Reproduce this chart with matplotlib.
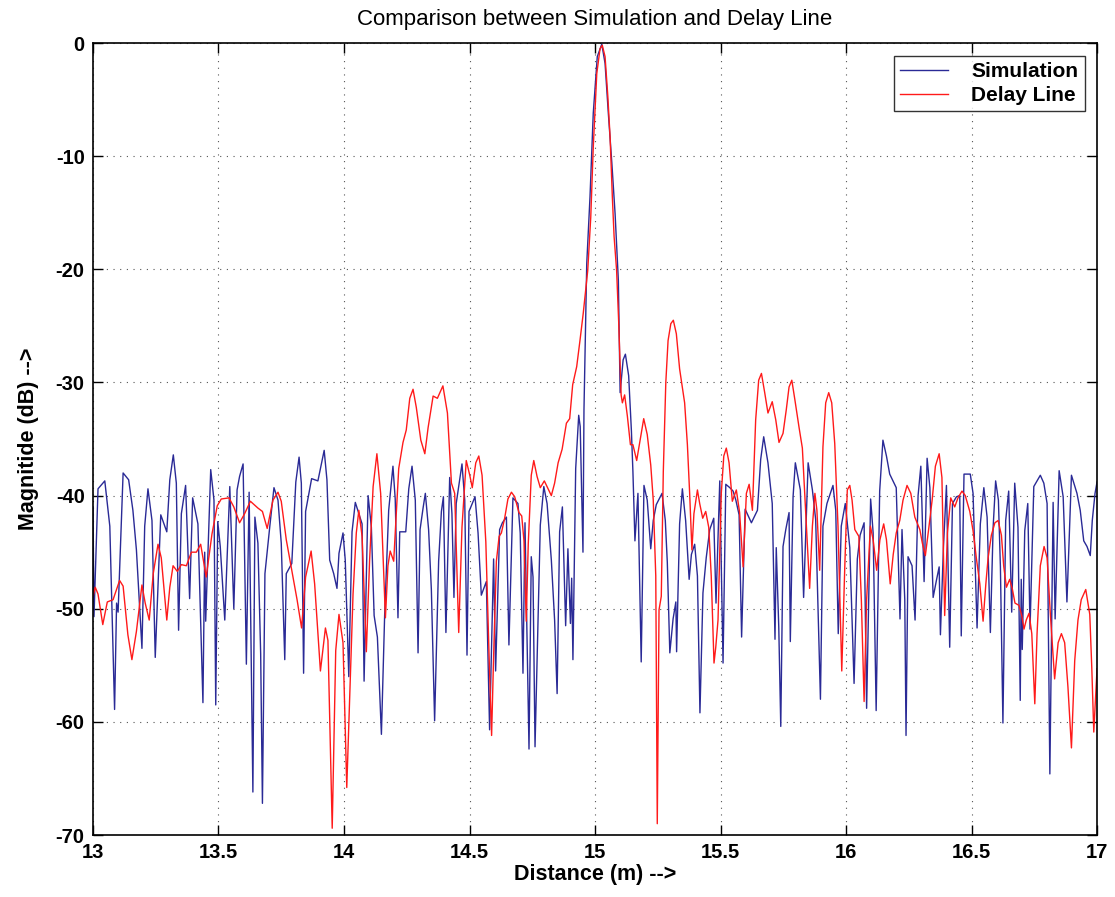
import matplotlib
matplotlib.use('Agg')
import matplotlib.pyplot as plt

plt.rcParams['font.family'] = ['Liberation Sans', 'DejaVu Sans']
plt.rcParams['axes.unicode_minus'] = False

# Simulated response (distance in m, magnitude in dB)
sim_x = [
    13.000, 13.004, 13.020, 13.047, 13.067, 13.086, 13.094, 13.100, 13.120, 13.142,
    13.159, 13.173, 13.195, 13.206, 13.219, 13.235, 13.248, 13.270, 13.294, 13.306,
    13.320, 13.332, 13.341, 13.352, 13.369, 13.385, 13.397, 13.418, 13.438, 13.445,
    13.449, 13.469, 13.482, 13.489, 13.497, 13.507, 13.525, 13.545, 13.561, 13.574,
    13.584, 13.598, 13.611, 13.622, 13.637, 13.645, 13.657, 13.668, 13.675, 13.685,
    13.704, 13.721, 13.737, 13.750, 13.764, 13.770, 13.792, 13.808, 13.821, 13.830,
    13.839, 13.847, 13.871, 13.896, 13.921, 13.932, 13.943, 13.959, 13.972, 13.980,
    13.996, 14.005, 14.019, 14.032, 14.045, 14.059, 14.072, 14.080, 14.096, 14.109,
    14.120, 14.133, 14.149, 14.162, 14.178, 14.195, 14.204, 14.215, 14.222, 14.246,
    14.258, 14.271, 14.284, 14.295, 14.303, 14.315, 14.324, 14.337, 14.348, 14.361,
    14.377, 14.388, 14.396, 14.406, 14.421, 14.430, 14.438, 14.447, 14.470, 14.481,
    14.490, 14.498, 14.522, 14.534, 14.547, 14.567, 14.580, 14.596, 14.604, 14.620,
    14.631, 14.647, 14.657, 14.673, 14.693, 14.702, 14.713, 14.721, 14.726, 14.737,
    14.746, 14.753, 14.761, 14.782, 14.796, 14.809, 14.826, 14.839, 14.849, 14.859,
    14.870, 14.883, 14.892, 14.902, 14.907, 14.912, 14.923, 14.935, 14.941, 14.952,
    14.956, 14.967, 14.980, 14.993, 15.009, 15.027, 15.040, 15.053, 15.067, 15.080,
    15.093, 15.100, 15.112, 15.121, 15.134, 15.145, 15.151, 15.159, 15.171, 15.184,
    15.195, 15.208, 15.222, 15.232, 15.244, 15.267, 15.280, 15.288, 15.298, 15.311,
    15.322, 15.325, 15.337, 15.348, 15.361, 15.375, 15.384, 15.397, 15.408, 15.418,
    15.430, 15.443, 15.457, 15.473, 15.482, 15.497, 15.510, 15.521, 15.537, 15.550,
    15.561, 15.574, 15.584, 15.598, 15.623, 15.647, 15.660, 15.672, 15.689, 15.706,
    15.717, 15.722, 15.732, 15.740, 15.749, 15.760, 15.773, 15.778, 15.789, 15.798,
    15.818, 15.831, 15.849, 15.866, 15.879, 15.898, 15.908, 15.924, 15.948, 15.959,
    15.969, 15.981, 15.997, 16.015, 16.032, 16.045, 16.056, 16.072, 16.082, 16.098,
    16.108, 16.120, 16.134, 16.147, 16.161, 16.174, 16.187, 16.200, 16.215, 16.223,
    16.234, 16.239, 16.247, 16.263, 16.275, 16.287, 16.298, 16.311, 16.323, 16.334,
    16.347, 16.360, 16.371, 16.376, 16.388, 16.400, 16.413, 16.424, 16.440, 16.453,
    16.459, 16.470, 16.495, 16.506, 16.522, 16.535, 16.549, 16.562, 16.575, 16.586,
    16.596, 16.607, 16.615, 16.625, 16.636, 16.648, 16.660, 16.672, 16.685, 16.694,
    16.698, 16.702, 16.712, 16.724, 16.733, 16.748, 16.774, 16.788, 16.801, 16.812,
    16.825, 16.833, 16.849, 16.865, 16.880, 16.898, 16.920, 16.933, 16.947, 16.960,
    16.973, 16.981, 16.992, 17.000,
]
sim_db = [
    -41.0, -50.7, -39.4, -38.7, -42.7, -58.9, -49.5, -50.3, -38.0, -38.6,
    -41.3, -44.8, -53.5, -42.7, -39.4, -42.2, -54.3, -41.7, -43.2, -38.6,
    -36.4, -38.9, -51.9, -41.6, -39.1, -49.1, -40.2, -42.5, -58.3, -45.0,
    -51.1, -37.7, -40.4, -58.5, -42.3, -44.5, -51.0, -39.2, -50.0, -39.5,
    -38.3, -37.2, -54.9, -39.7, -66.2, -41.9, -44.2, -54.0, -67.2, -46.9,
    -42.8, -39.3, -40.4, -44.2, -54.5, -46.9, -46.0, -38.8, -36.6, -38.9,
    -55.7, -41.4, -38.5, -38.7, -36.0, -38.6, -45.7, -46.9, -48.2, -45.1,
    -43.3, -45.7, -56.0, -43.2, -40.6, -41.6, -42.5, -56.4, -40.0, -42.8,
    -50.6, -52.5, -61.1, -50.5, -41.3, -37.4, -40.3, -50.8, -43.2, -43.2,
    -39.4, -37.4, -40.4, -53.9, -43.0, -41.1, -39.8, -43.0, -48.3, -59.9,
    -45.8, -41.4, -40.1, -52.1, -38.4, -41.6, -49.0, -40.7, -37.2, -40.4,
    -54.1, -41.4, -40.1, -43.3, -48.8, -47.6, -60.7, -45.6, -55.5, -43.0,
    -42.4, -41.9, -53.2, -40.2, -40.7, -43.3, -55.7, -42.4, -48.6, -62.4,
    -45.4, -47.2, -62.2, -42.6, -39.2, -40.7, -45.7, -51.0, -57.5, -43.2,
    -41.0, -51.5, -44.7, -51.3, -47.3, -54.5, -37.6, -32.9, -33.9, -45.0,
    -32.4, -19.5, -13.6, -6.2, -1.2, -0.1, -1.8, -6.2, -10.6, -15.1,
    -21.0, -30.9, -28.0, -27.5, -29.4, -34.3, -37.9, -44.0, -39.8, -54.7,
    -39.1, -40.4, -44.7, -42.2, -40.8, -39.8, -42.2, -45.9, -53.9, -50.9,
    -49.4, -53.8, -42.5, -39.4, -42.2, -47.4, -45.2, -44.3, -47.1, -59.2,
    -48.6, -45.5, -43.0, -42.0, -49.5, -38.7, -54.8, -39.0, -39.3, -39.6,
    -40.4, -41.7, -52.5, -41.2, -42.4, -41.3, -36.8, -34.8, -37.1, -40.7,
    -52.7, -44.6, -51.6, -60.4, -44.5, -43.0, -41.5, -52.9, -40.1, -37.1,
    -39.5, -49.0, -37.1, -39.5, -42.1, -58.0, -42.7, -40.7, -39.1, -41.3,
    -52.2, -42.7, -40.7, -44.6, -56.6, -45.6, -43.5, -42.4, -58.8, -40.3,
    -43.3, -59.0, -39.6, -35.1, -36.5, -38.1, -38.7, -39.3, -50.9, -43.0,
    -49.2, -61.2, -45.4, -46.2, -51.0, -40.0, -37.4, -47.6, -36.7, -39.3,
    -49.0, -47.5, -46.3, -52.3, -44.6, -39.1, -53.4, -40.7, -40.1, -40.0,
    -52.4, -38.1, -38.1, -39.8, -51.7, -42.5, -39.3, -41.9, -52.1, -42.8,
    -38.7, -40.4, -46.3, -60.1, -42.2, -39.6, -50.3, -38.9, -42.8, -58.1,
    -47.4, -53.6, -43.1, -40.7, -51.8, -39.2, -38.2, -38.9, -40.7, -64.6,
    -40.6, -50.9, -37.8, -40.1, -49.4, -38.2, -39.8, -41.3, -44.0, -44.5,
    -45.3, -42.2, -39.8, -38.8,
]

# Delay line measurement
dl_x = [
    13.000, 13.009, 13.020, 13.039, 13.057, 13.080, 13.106, 13.120, 13.139, 13.155,
    13.173, 13.195, 13.208, 13.224, 13.240, 13.259, 13.272, 13.294, 13.306, 13.319,
    13.336, 13.352, 13.372, 13.392, 13.412, 13.429, 13.451, 13.474, 13.495, 13.511,
    13.542, 13.561, 13.584, 13.604, 13.627, 13.657, 13.675, 13.694, 13.717, 13.737,
    13.750, 13.770, 13.797, 13.813, 13.831, 13.847, 13.869, 13.883, 13.906, 13.926,
    13.936, 13.953, 13.967, 13.980, 13.996, 14.011, 14.023, 14.036, 14.049, 14.059,
    14.072, 14.089, 14.102, 14.116, 14.131, 14.146, 14.165, 14.175, 14.184, 14.198,
    14.218, 14.235, 14.248, 14.262, 14.275, 14.288, 14.306, 14.322, 14.335, 14.355,
    14.372, 14.394, 14.412, 14.428, 14.441, 14.457, 14.470, 14.487, 14.501, 14.511,
    14.525, 14.537, 14.550, 14.565, 14.578, 14.588, 14.596, 14.607, 14.618, 14.627,
    14.640, 14.653, 14.667, 14.680, 14.697, 14.708, 14.717, 14.726, 14.734, 14.746,
    14.756, 14.769, 14.782, 14.798, 14.813, 14.826, 14.839, 14.853, 14.869, 14.886,
    14.899, 14.911, 14.927, 14.940, 14.953, 14.971, 14.983, 14.993, 15.007, 15.020,
    15.029, 15.040, 15.051, 15.060, 15.069, 15.076, 15.086, 15.094, 15.104, 15.109,
    15.118, 15.129, 15.141, 15.151, 15.166, 15.181, 15.194, 15.208, 15.222, 15.232,
    15.242, 15.248, 15.255, 15.264, 15.272, 15.282, 15.291, 15.302, 15.312, 15.324,
    15.337, 15.357, 15.368, 15.377, 15.386, 15.394, 15.408, 15.417, 15.429, 15.441,
    15.453, 15.463, 15.474, 15.481, 15.490, 15.503, 15.513, 15.523, 15.534, 15.547,
    15.563, 15.576, 15.590, 15.603, 15.614, 15.627, 15.640, 15.652, 15.663, 15.676,
    15.689, 15.706, 15.720, 15.733, 15.749, 15.762, 15.773, 15.784, 15.796, 15.813,
    15.826, 15.839, 15.855, 15.866, 15.876, 15.884, 15.895, 15.908, 15.919, 15.931,
    15.943, 15.955, 15.968, 15.983, 15.995, 16.005, 16.015, 16.024, 16.035, 16.051,
    16.061, 16.072, 16.082, 16.097, 16.108, 16.122, 16.135, 16.150, 16.161, 16.176,
    16.188, 16.200, 16.214, 16.227, 16.243, 16.258, 16.274, 16.294, 16.304, 16.316,
    16.329, 16.343, 16.356, 16.371, 16.382, 16.393, 16.404, 16.417, 16.433, 16.446,
    16.462, 16.475, 16.493, 16.506, 16.519, 16.533, 16.546, 16.557, 16.566, 16.579,
    16.593, 16.606, 16.619, 16.628, 16.639, 16.652, 16.663, 16.673, 16.689, 16.700,
    16.709, 16.718, 16.729, 16.740, 16.752, 16.761, 16.774, 16.789, 16.801, 16.814,
    16.831, 16.845, 16.858, 16.871, 16.884, 16.898, 16.911, 16.924, 16.937, 16.955,
    16.971, 16.979, 16.987, 16.995, 17.000,
]
dl_db = [
    -48.9, -48.1, -48.7, -51.4, -49.4, -49.2, -47.5, -48.0, -52.3, -54.5,
    -52.0, -47.9, -49.5, -51.0, -46.9, -44.3, -45.5, -51.0, -48.1, -46.2,
    -46.7, -46.1, -46.2, -45.0, -45.0, -44.3, -47.2, -43.4, -40.9, -40.3,
    -40.2, -41.0, -42.4, -41.6, -40.5, -41.1, -41.4, -42.9, -40.4, -39.7,
    -40.5, -43.9, -47.2, -49.2, -51.7, -47.2, -44.9, -47.8, -55.5, -51.7,
    -52.8, -69.4, -53.7, -50.5, -53.0, -65.8, -57.5, -48.7, -43.3, -41.3,
    -43.6, -53.8, -45.7, -39.2, -36.3, -39.8, -50.8, -46.2, -44.9, -45.8,
    -37.6, -35.3, -34.2, -31.4, -30.6, -32.2, -35.1, -36.3, -34.0, -31.2,
    -31.4, -30.3, -32.7, -38.9, -39.8, -52.1, -42.8, -36.9, -38.2, -39.3,
    -37.1, -36.5, -38.2, -44.1, -54.2, -61.2, -54.2, -45.8, -43.6, -43.3,
    -42.0, -40.3, -39.7, -40.1, -41.5, -41.8, -44.0, -51.1, -44.3, -38.2,
    -36.9, -38.3, -39.3, -38.7, -39.4, -40.0, -38.9, -37.1, -35.9, -33.6,
    -33.2, -30.2, -28.6, -26.3, -23.9, -20.1, -15.4, -9.2, -2.7, -0.5,
    -0.2, -1.2, -4.7, -8.3, -13.6, -17.1, -20.1, -24.5, -31.1, -31.8,
    -31.1, -33.0, -35.5, -35.5, -36.9, -34.9, -33.2, -34.6, -37.3, -40.4,
    -47.1, -69.0, -50.1, -48.9, -37.9, -30.0, -26.3, -24.8, -24.5, -25.7,
    -28.8, -31.8, -35.5, -39.8, -44.8, -41.6, -39.5, -40.7, -42.0, -41.4,
    -42.8, -47.1, -54.8, -53.4, -51.0, -39.8, -36.5, -35.8, -37.1, -40.5,
    -39.5, -41.5, -46.3, -39.8, -39.0, -41.3, -33.3, -29.8, -29.2, -30.9,
    -32.7, -31.7, -33.3, -35.3, -34.5, -32.4, -30.4, -29.8, -31.5, -34.0,
    -35.8, -41.3, -48.2, -42.7, -39.8, -41.3, -46.6, -35.7, -31.8, -30.9,
    -31.8, -35.4, -42.7, -55.5, -46.3, -39.5, -39.1, -40.4, -43.0, -43.6,
    -49.2, -58.2, -49.2, -42.7, -43.9, -46.6, -43.9, -42.5, -43.9, -47.8,
    -45.2, -43.3, -42.2, -40.4, -39.1, -39.8, -41.9, -43.0, -44.2, -45.3,
    -43.0, -40.4, -37.4, -36.3, -38.4, -50.6, -43.3, -40.2, -41.0, -40.2,
    -39.6, -40.0, -41.4, -43.1, -45.5, -47.8, -51.1, -47.8, -45.5, -43.5,
    -42.4, -42.2, -43.5, -46.2, -48.1, -47.4, -48.3, -49.5, -49.7, -50.6,
    -51.8, -51.0, -50.4, -52.2, -58.4, -52.2, -46.2, -44.5, -45.5, -50.5,
    -56.2, -53.0, -52.2, -53.0, -56.9, -62.3, -54.6, -51.0, -49.2, -48.3,
    -50.5, -55.2, -60.9, -57.5, -55.3,
]

x_ticks = [13, 13.5, 14, 14.5, 15, 15.5, 16, 16.5, 17]
x_ticklabels = ['13', '13.5', '14', '14.5', '15', '15.5', '16', '16.5', '17']
y_ticks = [0, -10, -20, -30, -40, -50, -60, -70]

fig = plt.figure(figsize=(11.15, 8.97), dpi=100)
ax = fig.add_axes([0.0834, 0.0691, 0.9005, 0.8829])

ax.plot(sim_x, sim_db, color='#2a2a96', linewidth=1.0, label='Simulation')
ax.plot(dl_x, dl_db, color='#ff1a1a', linewidth=1.0, label='Delay Line')

ax.set_xlim(13, 17)
ax.set_ylim(-70, 0)
ax.set_xticks(x_ticks)
ax.set_xticklabels(x_ticklabels)
ax.set_yticks(y_ticks)

ax.grid(True, linestyle=(0, (1, 5)), color='#555555', linewidth=0.8)
ax.tick_params(direction='in', length=7, width=1, labelsize=14.5, pad=6,
               top=True, right=True)
for lbl in ax.get_xticklabels() + ax.get_yticklabels():
    lbl.set_fontweight('bold')
for sp in ax.spines.values():
    sp.set_linewidth(1.2)

ax.set_xlabel('Distance (m) -->', fontsize=15.5, fontweight='bold', labelpad=1)
ax.set_ylabel('Magnitide (dB) -->', fontsize=15.5, fontweight='bold', labelpad=12)
ax.set_title('Comparison between Simulation and Delay Line', fontsize=16, pad=13)

leg = ax.legend(loc='upper right', fontsize=15, frameon=True, fancybox=False,
                handlelength=2.3, borderaxespad=0.6, labelspacing=0.25,
                borderpad=0.3, handletextpad=1.1)
leg.get_frame().set_edgecolor('black')
leg.get_frame().set_linewidth(1.0)
for t in leg.get_texts():
    t.set_fontweight('bold')

fig.savefig('out.png', dpi=100)
